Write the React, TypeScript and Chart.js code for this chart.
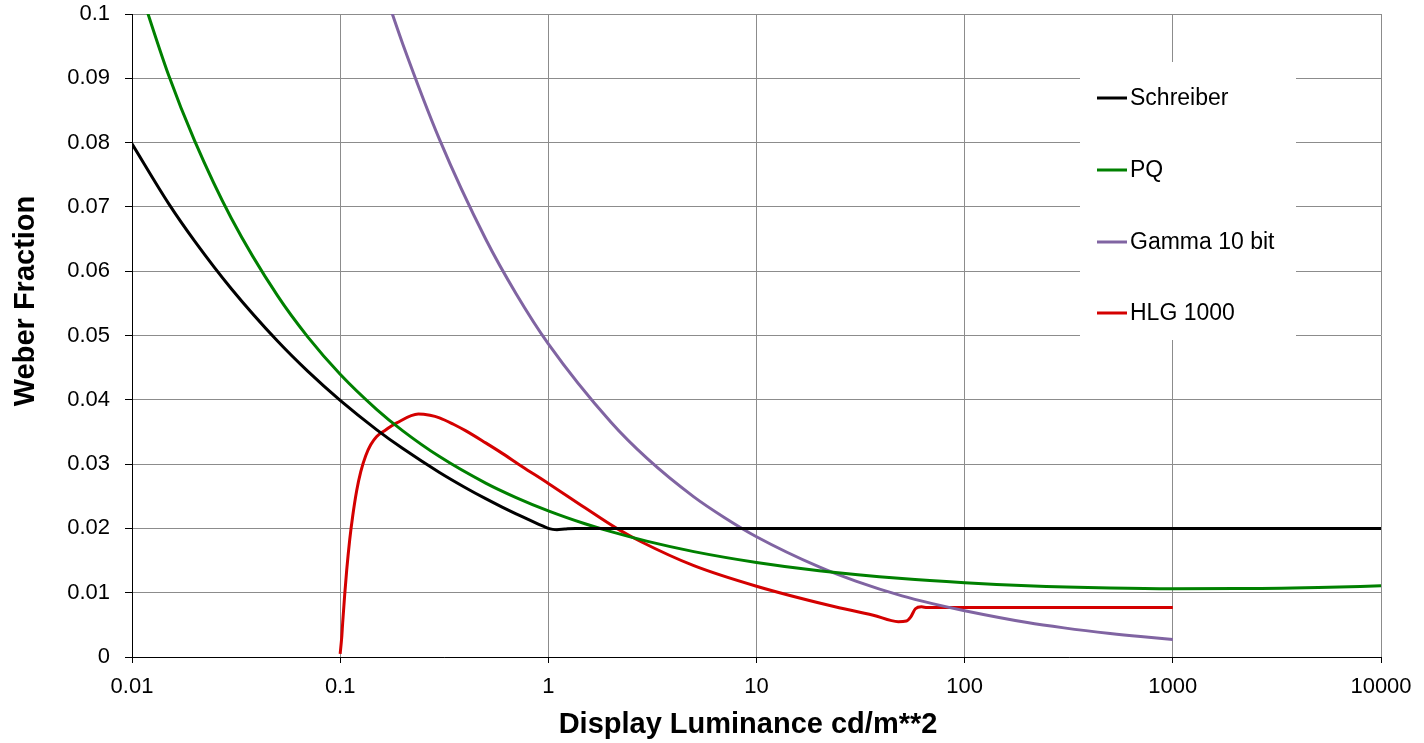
import React, { useEffect, useRef } from "react";
import { Chart, registerables } from "chart.js";

Chart.register(...registerables);

// ---- Axis ticks ----
const X_TICKS = [0.01, 0.1, 1, 10, 100, 1000, 10000];
const X_TICK_LABELS = ["0.01", "0.1", "1", "10", "100", "1000", "10000"];
const Y_TICKS = [0, 0.01, 0.02, 0.03, 0.04, 0.05, 0.06, 0.07, 0.08, 0.09, 0.1];
const Y_TICK_LABELS = ["0", "0.01", "0.02", "0.03", "0.04", "0.05", "0.06", "0.07", "0.08", "0.09", "0.1"];

// ---- Series (luminance cd/m^2 -> Weber fraction) ----
const SERIES_NAMES = ["Schreiber", "PQ", "Gamma 10 bit", "HLG 1000"];

const SCHREIBER_L = [0.01, 0.015, 0.02, 0.03, 0.05, 0.07, 0.1, 0.15, 0.2, 0.3, 0.4, 0.5, 0.6, 0.7, 0.8, 0.9, 0.95, 1.0, 1.05, 1.1, 1.2, 1.35, 10000];
const SCHREIBER_W = [0.0798, 0.07050, 0.06467, 0.05727, 0.04913, 0.04441, 0.03991, 0.03533, 0.03241, 0.02870, 0.02633, 0.02462, 0.02331, 0.02226, 0.02139, 0.02064, 0.02031, 0.0200, 0.01985, 0.0198, 0.0199, 0.0200, 0.0200];

const PQ_L = [0.01, 0.015, 0.02, 0.03, 0.05, 0.07, 0.1, 0.15, 0.2, 0.3, 0.5, 0.7, 1, 1.5, 2, 3, 5, 10, 20, 50, 100, 200, 500, 1000, 2000, 5000, 10000];
const PQ_W = [0.1077, 0.09046, 0.08027, 0.06824, 0.05619, 0.04975, 0.04398, 0.03849, 0.03517, 0.03117, 0.02705, 0.02480, 0.02273, 0.02072, 0.01949, 0.01798, 0.01639, 0.01470, 0.01341, 0.01219, 0.01155, 0.01109, 0.01074, 0.01063, 0.01064, 0.01082, 0.01107];

const GAMMA_L = [0.17, 0.2, 0.3, 0.5, 0.7, 1, 2, 3, 5, 7, 10, 20, 30, 50, 70, 100, 200, 300, 500, 700, 1000];
const GAMMA_W = [0.1019, 0.0953, 0.0805, 0.0650, 0.0565, 0.0487, 0.0365, 0.0308, 0.0249, 0.0217, 0.0187, 0.0140, 0.0118, 0.0095, 0.0083, 0.0072, 0.00536, 0.00453, 0.00366, 0.00318, 0.00274];

const HLG_L = [0.1, 0.10171, 0.10284, 0.10514, 0.10749, 0.1111, 0.11484, 0.12008, 0.12552, 0.13265, 0.14018, 0.1498, 0.16184, 0.1869, 0.2374, 0.27, 0.3, 0.35, 0.4, 0.5, 0.586, 0.75, 1, 1.5, 2.13, 2.76, 5, 10, 22.5, 36.4, 48, 52.5, 55, 58, 62, 66, 1000];
const HLG_W = [0.0005, 0.0030, 0.0054, 0.0097, 0.0135, 0.0182, 0.0219, 0.0259, 0.0288, 0.0313, 0.0330, 0.0343, 0.0351, 0.0364, 0.0378, 0.0376, 0.0372, 0.0362, 0.0352, 0.0333, 0.0319, 0.0296, 0.0270, 0.0232, 0.0200, 0.0180, 0.0142, 0.0110, 0.0080, 0.0065, 0.0055, 0.0056, 0.0062, 0.0075, 0.0078, 0.0077, 0.0077];

const SERIES_COLORS = ["#000000", "#008000", "#8064A2", "#D40000"];

// ---- Layout / style constants ----
const FONT = "'Liberation Sans', Arial, sans-serif";
const GRID_COLOR = "#8c8c8c";
const LEGEND_BOX = { x: 1080, y: 62, w: 216, h: 278 };
const LEGEND_ROWS = [98, 170, 242, 313];

const toPoints = (xs: number[], ys: number[]) => xs.map((x, i) => ({ x, y: ys[i] }));

const decorPlugin = {
  id: "decor",
  afterDatasetsDraw(chart: any) {
    const ctx = chart.ctx as CanvasRenderingContext2D;
    ctx.save();
    ctx.fillStyle = "#ffffff";
    ctx.fillRect(LEGEND_BOX.x, LEGEND_BOX.y, LEGEND_BOX.w, LEGEND_BOX.h);
    chart.data.datasets.forEach((ds: any, i: number) => {
      const y = LEGEND_ROWS[i];
      ctx.strokeStyle = ds.borderColor;
      ctx.lineWidth = 3;
      ctx.beginPath();
      ctx.moveTo(LEGEND_BOX.x + 17, y);
      ctx.lineTo(LEGEND_BOX.x + 47, y);
      ctx.stroke();
      ctx.fillStyle = "#000";
      ctx.font = `23px ${FONT}`;
      ctx.textAlign = "left";
      ctx.textBaseline = "middle";
      ctx.fillText(ds.label, LEGEND_BOX.x + 50, y + 1);
    });
    ctx.restore();
  },
  afterDraw(chart: any) {
    const ctx = chart.ctx as CanvasRenderingContext2D;
    ctx.save();
    ctx.fillStyle = "#000";
    ctx.font = `bold 29px ${FONT}`;
    ctx.textAlign = "center";
    ctx.textBaseline = "middle";
    ctx.fillText("Display Luminance cd/m**2", 748, 725);
    ctx.translate(26, 301);
    ctx.rotate(-Math.PI / 2);
    ctx.fillText("Weber Fraction", 0, 0);
    ctx.restore();
  },
};

export default function App() {
  const ref = useRef<HTMLCanvasElement | null>(null);

  useEffect(() => {
    if (!ref.current) return;
    const seriesL = [SCHREIBER_L, PQ_L, GAMMA_L, HLG_L];
    const seriesW = [SCHREIBER_W, PQ_W, GAMMA_W, HLG_W];
    const chart = new Chart(ref.current, {
      type: "line",
      data: {
        datasets: SERIES_NAMES.map((name, i) => ({
          label: name,
          data: toPoints(seriesL[i], seriesW[i]),
          borderColor: SERIES_COLORS[i],
          backgroundColor: SERIES_COLORS[i],
          borderWidth: 3,
          pointRadius: 0,
          fill: false,
          cubicInterpolationMode: "monotone" as const,
        })),
      },
      options: {
        animation: false,
        responsive: false,
        devicePixelRatio: 1,
        layout: { padding: { top: 14, right: 43, left: 0, bottom: 0 } },
        plugins: { legend: { display: false }, tooltip: { enabled: false }, title: { display: false } },
        scales: {
          x: {
            type: "logarithmic",
            min: 0.01,
            max: 10000,
            afterBuildTicks: (s: any) => {
              s.ticks = X_TICKS.map((v) => ({ value: v }));
            },
            afterFit: (s: any) => {
              s.height = 86;
            },
            ticks: {
              autoSkip: false,
              maxRotation: 0,
              color: "#000",
              font: { family: FONT, size: 22 },
              padding: 11,
              callback: (_v: any, i: number) => X_TICK_LABELS[i],
            },
            grid: { color: GRID_COLOR, lineWidth: 1, tickColor: "#000", tickLength: 6 },
            border: { color: "#000", width: 1 },
          },
          y: {
            type: "linear",
            min: 0,
            max: 0.1,
            afterBuildTicks: (s: any) => {
              s.ticks = Y_TICKS.map((v) => ({ value: v }));
            },
            afterFit: (s: any) => {
              s.width = 132;
              s.paddingTop = 0;
              s.paddingBottom = 0;
            },
            ticks: {
              autoSkip: false,
              color: "#000",
              font: { family: FONT, size: 22 },
              padding: 15,
              callback: (_v: any, i: number) => Y_TICK_LABELS[i],
            },
            grid: { color: GRID_COLOR, lineWidth: 1, tickColor: "#000", tickLength: 7 },
            border: { color: "#000", width: 1 },
          },
        },
      },
      plugins: [decorPlugin],
    });
    return () => chart.destroy();
  }, []);

  return (
    <div style={{ position: "fixed", left: 0, top: 0, width: 1424, height: 743, background: "#fff" }}>
      <canvas ref={ref} width={1424} height={743} style={{ display: "block" }} />
    </div>
  );
}
